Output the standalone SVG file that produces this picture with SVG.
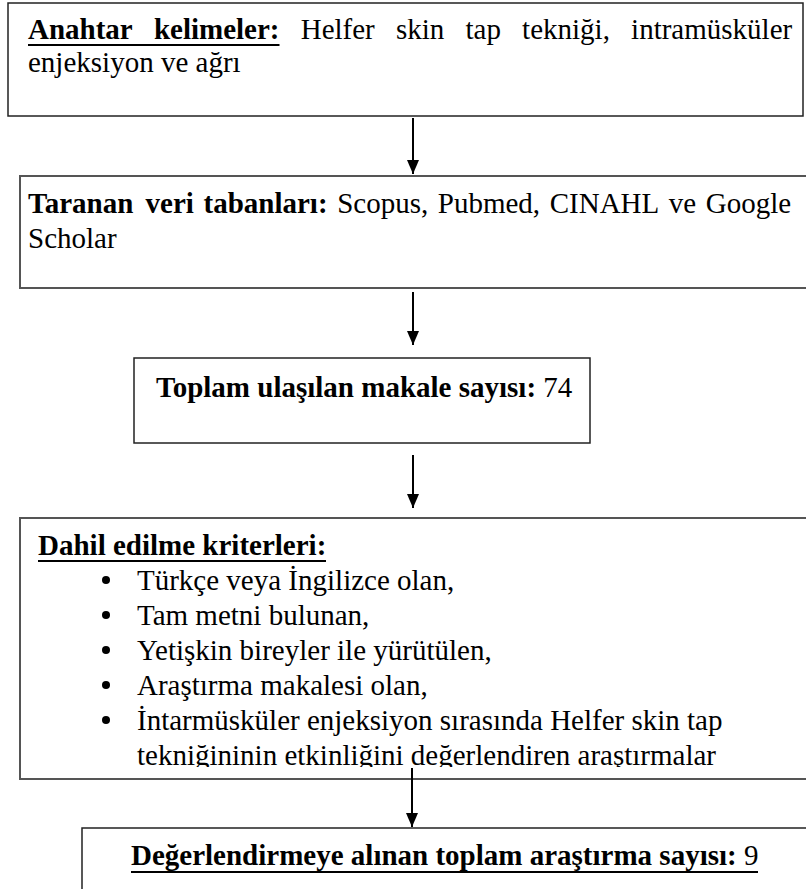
<svg xmlns="http://www.w3.org/2000/svg" width="806" height="889" viewBox="0 0 806 889">
<style>
text{font-family:"Liberation Serif","Times New Roman",serif;font-size:29px;fill:#000}
.b{font-weight:bold}
.box{fill:#fff;stroke:#222;stroke-width:1.5}
.gbox{fill:#fff;stroke:#555;stroke-width:2}
.ul{stroke:#000;stroke-width:2.2}
.con line{stroke:#000;stroke-width:2}
</style>
<defs>
<marker id="ah" markerWidth="14" markerHeight="12" refX="14" refY="6" orient="auto" markerUnits="userSpaceOnUse" viewBox="0 0 14 12">
<path d="M0,0 L14,6 L0,12 Z" fill="#000"/>
</marker>
<clipPath id="c4"><rect x="20" y="518" width="800" height="249"/></clipPath>
</defs>
<g id="n1">
<rect class="box" x="8" y="3" width="795" height="113"/>
<text class="b" x="28" y="39">Anahtar</text>
<text class="b" x="153.9" y="39">kelimeler:</text>
<line class="ul" x1="28" y1="45" x2="279.5" y2="45"/>
<text x="300.7" y="39">Helfer</text>
<text x="396" y="39">skin</text>
<text x="465.5" y="39">tap</text>
<text x="522.1" y="39">tekniği,</text>
<text x="631.1" y="39">intramüsküler</text>
<text x="28" y="72">enjeksiyon ve ağrı</text>
</g>
<g id="n2">
<rect class="gbox" x="20" y="176" width="800" height="112"/>
<text class="b" x="28" y="213">Taranan</text>
<text class="b" x="145.6" y="213">veri</text>
<text class="b" x="203.5" y="213">tabanları:</text>
<text x="337.2" y="213">Scopus,</text>
<text x="437.8" y="213">Pubmed,</text>
<text x="549.7" y="213">CINAHL</text>
<text x="668.8" y="213">ve</text>
<text x="705.8" y="213">Google</text>
<text x="28" y="248">Scholar</text>
</g>
<g id="n3">
<rect class="box" x="134" y="358" width="456" height="85"/>
<text x="156" y="397"><tspan class="b">Toplam ulaşılan makale sayısı:</tspan> 74</text>
</g>
<g id="n4">
<rect class="gbox" x="20" y="518" width="800" height="261"/>
<text class="b" x="38" y="555">Dahil edilme kriterleri:</text>
<line class="ul" x1="38" y1="561" x2="326" y2="561"/>
<g clip-path="url(#c4)">
<circle cx="106" cy="580" r="4"/>
<circle cx="106" cy="615" r="4"/>
<circle cx="106" cy="650" r="4"/>
<circle cx="106" cy="685" r="4"/>
<circle cx="106" cy="720" r="4"/>
<text x="137" y="590">Türkçe veya İngilizce olan,</text>
<text x="137" y="625">Tam metni bulunan,</text>
<text x="137" y="660">Yetişkin bireyler ile yürütülen,</text>
<text x="137" y="695">Araştırma makalesi olan,</text>
<text x="137" y="730">İntarmüsküler enjeksiyon sırasında Helfer skin tap</text>
<text x="137" y="765">tekniğininin etkinliğini değerlendiren araştırmalar</text>
</g>
</g>
<g id="n5">
<rect class="box" x="82" y="828" width="740" height="70"/>
<text x="131" y="865"><tspan class="b">Değerlendirmeye alınan toplam araştırma sayısı:</tspan> 9</text>
<line class="ul" x1="131" y1="872" x2="758" y2="872"/>
</g>
<g class="con">
<line x1="413" y1="118" x2="413" y2="174" marker-end="url(#ah)"/>
<line x1="413" y1="292" x2="413" y2="345" marker-end="url(#ah)"/>
<line x1="413" y1="455" x2="413" y2="508" marker-end="url(#ah)"/>
<line x1="412" y1="768" x2="412" y2="827" marker-end="url(#ah)"/>
</g>
</svg>
